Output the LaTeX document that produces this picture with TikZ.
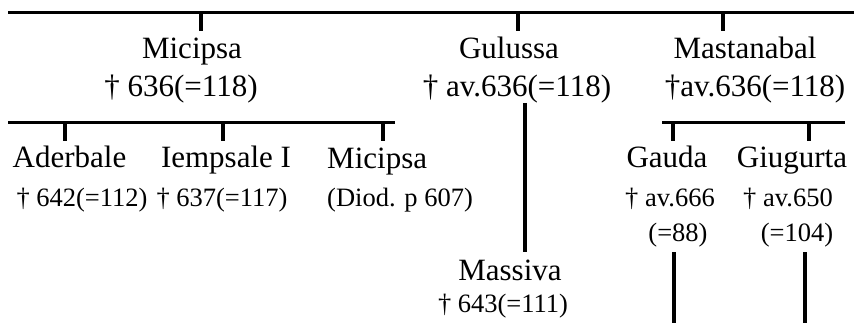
\documentclass[tikz,border=0pt]{standalone}
\usepackage{fontspec}
\setmainfont{Liberation Serif}
\begin{document}
\begin{tikzpicture}[x=1pt,y=-1pt,
  ln/.style={line width=3.1pt},
  nm/.style={anchor=base,inner sep=0pt,font=\fontsize{31}{36}\selectfont},
  dtbig/.style={anchor=base,inner sep=0pt,font=\fontsize{31}{36}\selectfont},
  dt/.style={anchor=base,inner sep=0pt,font=\fontsize{26.5}{30}\selectfont}]
\useasboundingbox (0,0) rectangle (854,323);
% top generation
\coordinate (barL) at (8,12.7);
\coordinate (barR) at (858,12.7);
\coordinate (tA0) at (201,12.7);  \coordinate (tA1) at (201,30.7);
\coordinate (tB0) at (518,12.7);  \coordinate (tB1) at (518,30.7);
\coordinate (tC0) at (723,12.7);  \coordinate (tC1) at (723,30.7);
\node[nm] (mic) at (192,59) {Micipsa};
\node[dtbig] (micd) at (181,96.5) {† 636(=118)};
\node[nm] (gul) at (509,59) {Gulussa};
\node[dtbig] (guld) at (517,96.5) {† av.636(=118)};
\node[nm] (mas) at (745,59) {Mastanabal};
\node[dtbig] (masd) at (755,96.5) {†av.636(=118)};
\draw[ln] (barL) -- (barR);
\draw[ln] (tA0) -- (tA1);
\draw[ln] (tB0) -- (tB1);
\draw[ln] (tC0) -- (tC1);
% Micipsa's children
\coordinate (mbL) at (8,122.7);
\coordinate (mbR) at (395,122.7);
\coordinate (m1a) at (65,122.7);  \coordinate (m1b) at (65,140.7);
\coordinate (m2a) at (223,122.7); \coordinate (m2b) at (223,140.7);
\coordinate (m3a) at (383,122.7); \coordinate (m3b) at (383,140.7);
\draw[ln] (mbL) -- (mbR);
\draw[ln] (m1a) -- (m1b);
\draw[ln] (m2a) -- (m2b);
\draw[ln] (m3a) -- (m3b);
\node[nm] (ade) at (69.5,168) {Aderbale};
\node[dt] (aded) at (82,207) {† 642(=112)};
\node[nm] (iem) at (226,168) {Iempsale I};
\node[dt] (iemd) at (222,207) {† 637(=117)};
\node[nm,anchor=base west] (mic2) at (327,169) {Micipsa};
\node[dt,anchor=base west] (mic2d) at (327,207) {(Diod. p 607)};
% Gulussa's son
\coordinate (g0) at (525,103);
\coordinate (g1) at (525,252);
\draw[ln] (g0) -- (g1);
\node[nm] (mass) at (510,280) {Massiva};
\node[dt] (massd) at (503,312) {† 643(=111)};
% Mastanabal's children
\coordinate (sbL) at (662,122.7);
\coordinate (sbR) at (845,122.7);
\coordinate (s1a) at (673,122.7); \coordinate (s1b) at (673,141);
\coordinate (s2a) at (809,122.7); \coordinate (s2b) at (809,141);
\draw[ln] (sbL) -- (sbR);
\draw[ln] (s1a) -- (s1b);
\draw[ln] (s2a) -- (s2b);
\node[nm] (gau) at (667,168) {Gauda};
\node[dt] (gaud) at (670,207) {† av.666};
\node[dt] (gaud2) at (678,242) {(=88)};
\node[nm] (giu) at (792,168) {Giugurta};
\node[dt] (giud) at (788,207) {† av.650};
\node[dt] (giud2) at (797,242) {(=104)};
\coordinate (ga0) at (674,252); \coordinate (ga1) at (674,326);
\coordinate (gi0) at (805,252); \coordinate (gi1) at (805,326);
\draw[ln] (ga0) -- (ga1);
\draw[ln] (gi0) -- (gi1);
\end{tikzpicture}
\end{document}
